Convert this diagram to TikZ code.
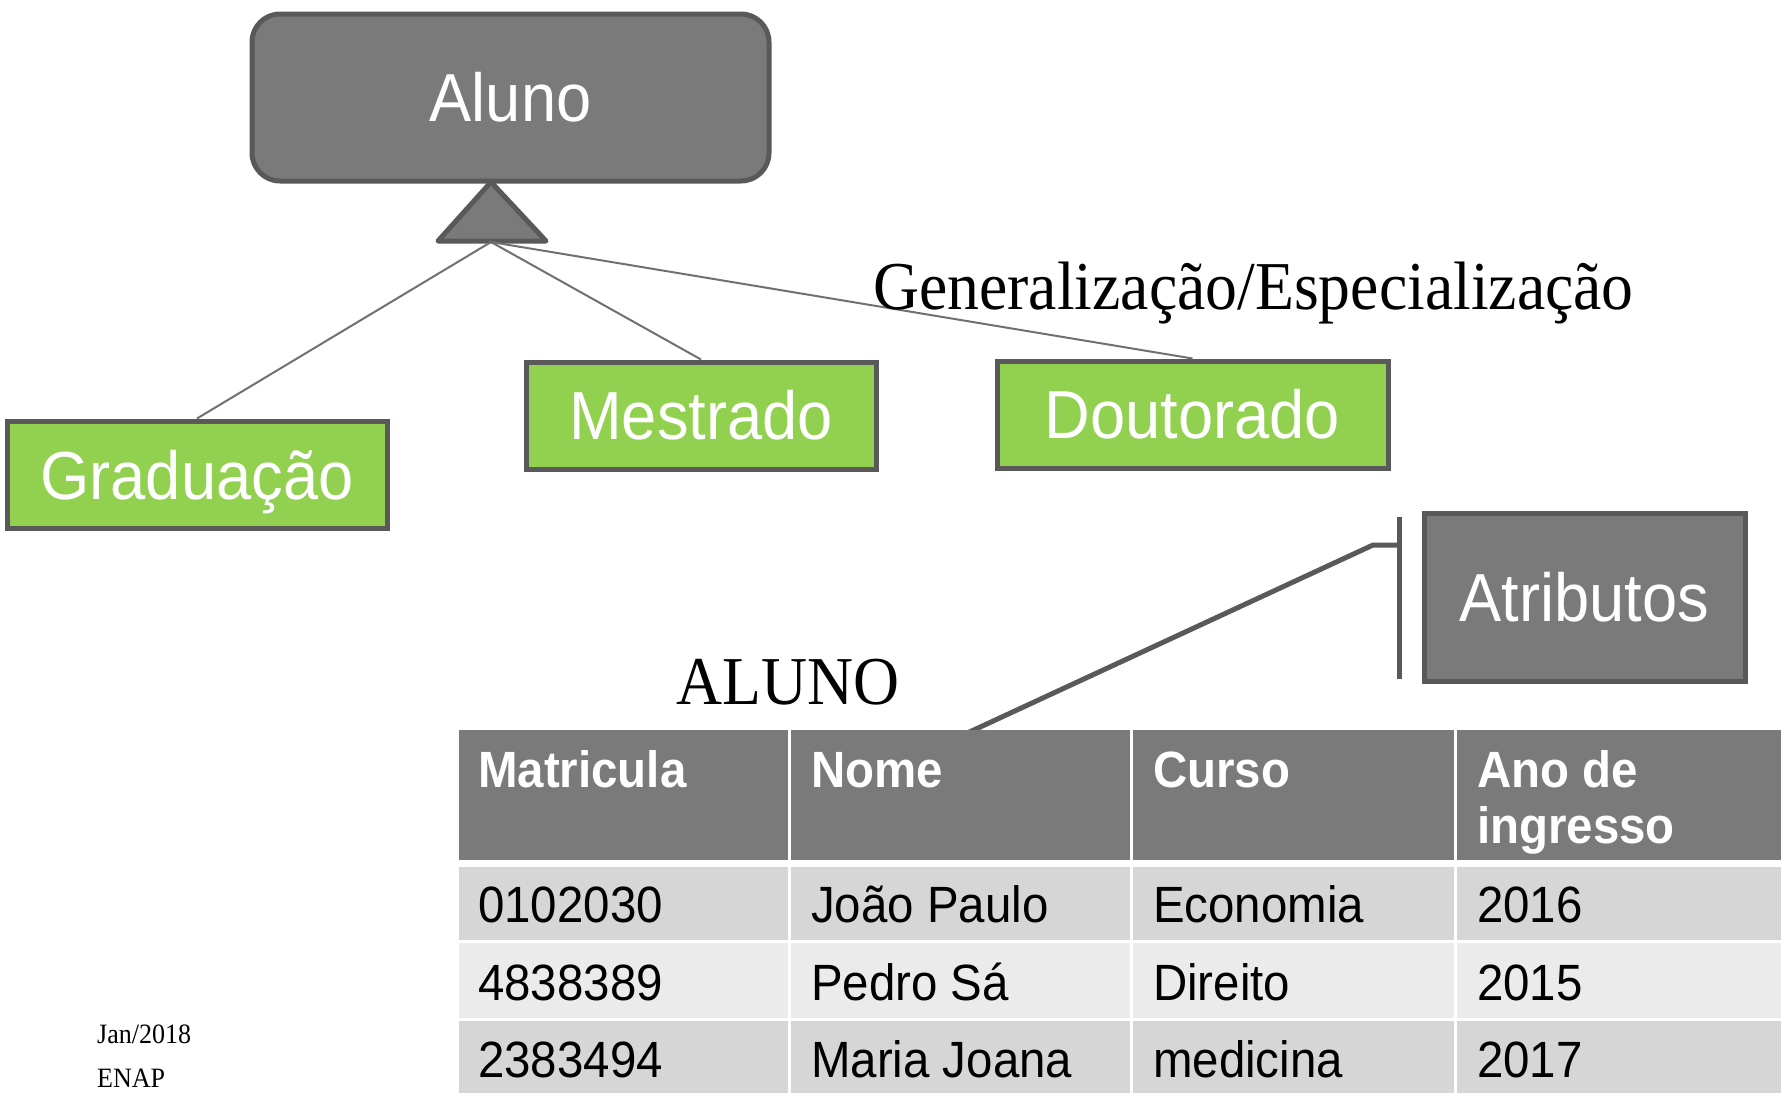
\documentclass[tikz,border=0pt]{standalone}
\usepackage{fontspec}
\newfontfamily\arialf{Liberation Sans}[FakeStretch=0.93]
\newfontfamily\timesf{Liberation Serif}[FakeStretch=0.93]
\definecolor{boxgray}{RGB}{122,122,122}
\definecolor{edgegray}{RGB}{89,89,89}
\definecolor{linkgray}{RGB}{112,112,112}
\definecolor{leafgreen}{RGB}{146,208,80}
\definecolor{rowA}{RGB}{214,214,214}
\definecolor{rowB}{RGB}{235,235,235}
\begin{document}
\begin{tikzpicture}[x=1pt,y=-1pt,
  bigtext/.style={font=\arialf\fontsize{68}{70}\selectfont, text=white},
  leafbox/.style={draw=edgegray, line width=5pt, fill=leafgreen, minimum height=107pt, inner sep=0pt, bigtext},
  graybox/.style={draw=edgegray, line width=5pt, fill=boxgray, inner sep=0pt, bigtext},
  link/.style={draw=linkgray, line width=2pt},
  hdrtext/.style={anchor=base west, inner sep=0pt, font=\arialf\bfseries\fontsize{51}{56}\selectfont, text=white},
  celltext/.style={anchor=base west, inner sep=0pt, font=\arialf\fontsize{51}{56}\selectfont, text=black},
  serif/.style={anchor=base west, inner sep=0pt, font=\timesf\fontsize{68.5}{70}\selectfont},
  small/.style={anchor=base west, inner sep=0pt, font=\timesf\fontsize{28}{30}\selectfont}
]
\useasboundingbox (0,0) rectangle (1781,1093);

% Aluno
\node[graybox, rounded corners=28pt, minimum width=517pt, minimum height=167pt] (aluno) at (510.5,97.5) {Aluno};
% triangle
\draw[draw=edgegray, fill=boxgray, line width=5pt, line join=round] (491,182) -- (546,241) -- (438,241) -- cycle;
\coordinate (tri) at (491,242);

% leaves
\node[leafbox, minimum width=380pt, text depth=0pt] (grad) at (197,474.5) {Graduação};
\node[leafbox, minimum width=350pt] (mest) at (701,415.5) {Mestrado};
\node[leafbox, minimum width=391pt] (dout) at (1192.5,414.5) {Doutorado};

\draw[link] (tri) -- (grad.north);
\draw[link] (tri) -- (mest.north);
\draw[link] (tri) -- (dout.north);

\node[serif] (gen) at (873,309) {Generalização/Especialização};

% Atributos
\node[graybox, minimum width=321pt, minimum height=168pt] (attr) at (1584.5,597) {Atributos};
\coordinate (brT) at (1399,517);
\coordinate (brB) at (1399,679);
\coordinate (brM) at (1399,545);
\coordinate (brK) at (1373,545);
\coordinate (nomept) at (963,735);
\draw[draw=edgegray, line width=5pt] (brT) -- (brB);
\draw[draw=edgegray, line width=5pt, line join=round] (brM) -- (brK) -- (nomept);

\node[serif] (alunotit) at (676,704) {ALUNO};

% table cells
\fill[boxgray] (459,730) rectangle (788,860);
\fill[boxgray] (791,730) rectangle (1130,860);
\fill[boxgray] (1133,730) rectangle (1454,860);
\fill[boxgray] (1457,730) rectangle (1781,860);
\foreach \a/\b/\c in {867/940/rowA, 943/1018/rowB, 1021/1093/rowA}{
  \fill[\c] (459,\a) rectangle (788,\b);
  \fill[\c] (791,\a) rectangle (1130,\b);
  \fill[\c] (1133,\a) rectangle (1454,\b);
  \fill[\c] (1457,\a) rectangle (1781,\b);
}
% header text
\node[hdrtext] (h1) at (478,787) {Matricula};
\node[hdrtext] (h2) at (811,787) {Nome};
\node[hdrtext] (h3) at (1153,787) {Curso};
\node[hdrtext] (h4) at (1477,787) {Ano de};
\node[hdrtext] (h4b) at (1477,843) {ingresso};
% body
\node[celltext] (r1a) at (478,922) {0102030};
\node[celltext] (r1b) at (811,922) {João Paulo};
\node[celltext] (r1c) at (1153,922) {Economia};
\node[celltext] (r1d) at (1477,922) {2016};
\node[celltext] (r2a) at (478,1000) {4838389};
\node[celltext] (r2b) at (811,1000) {Pedro Sá};
\node[celltext] (r2c) at (1153,1000) {Direito};
\node[celltext] (r2d) at (1477,1000) {2015};
\node[celltext] (r3a) at (478,1077) {2383494};
\node[celltext] (r3b) at (811,1077) {Maria Joana};
\node[celltext] (r3c) at (1153,1077) {medicina};
\node[celltext] (r3d) at (1477,1077) {2017};

% footer
\node[small] (date) at (97,1043) {Jan/2018};
\node[small] (enap) at (97,1087) {ENAP};
\end{tikzpicture}
\end{document}
